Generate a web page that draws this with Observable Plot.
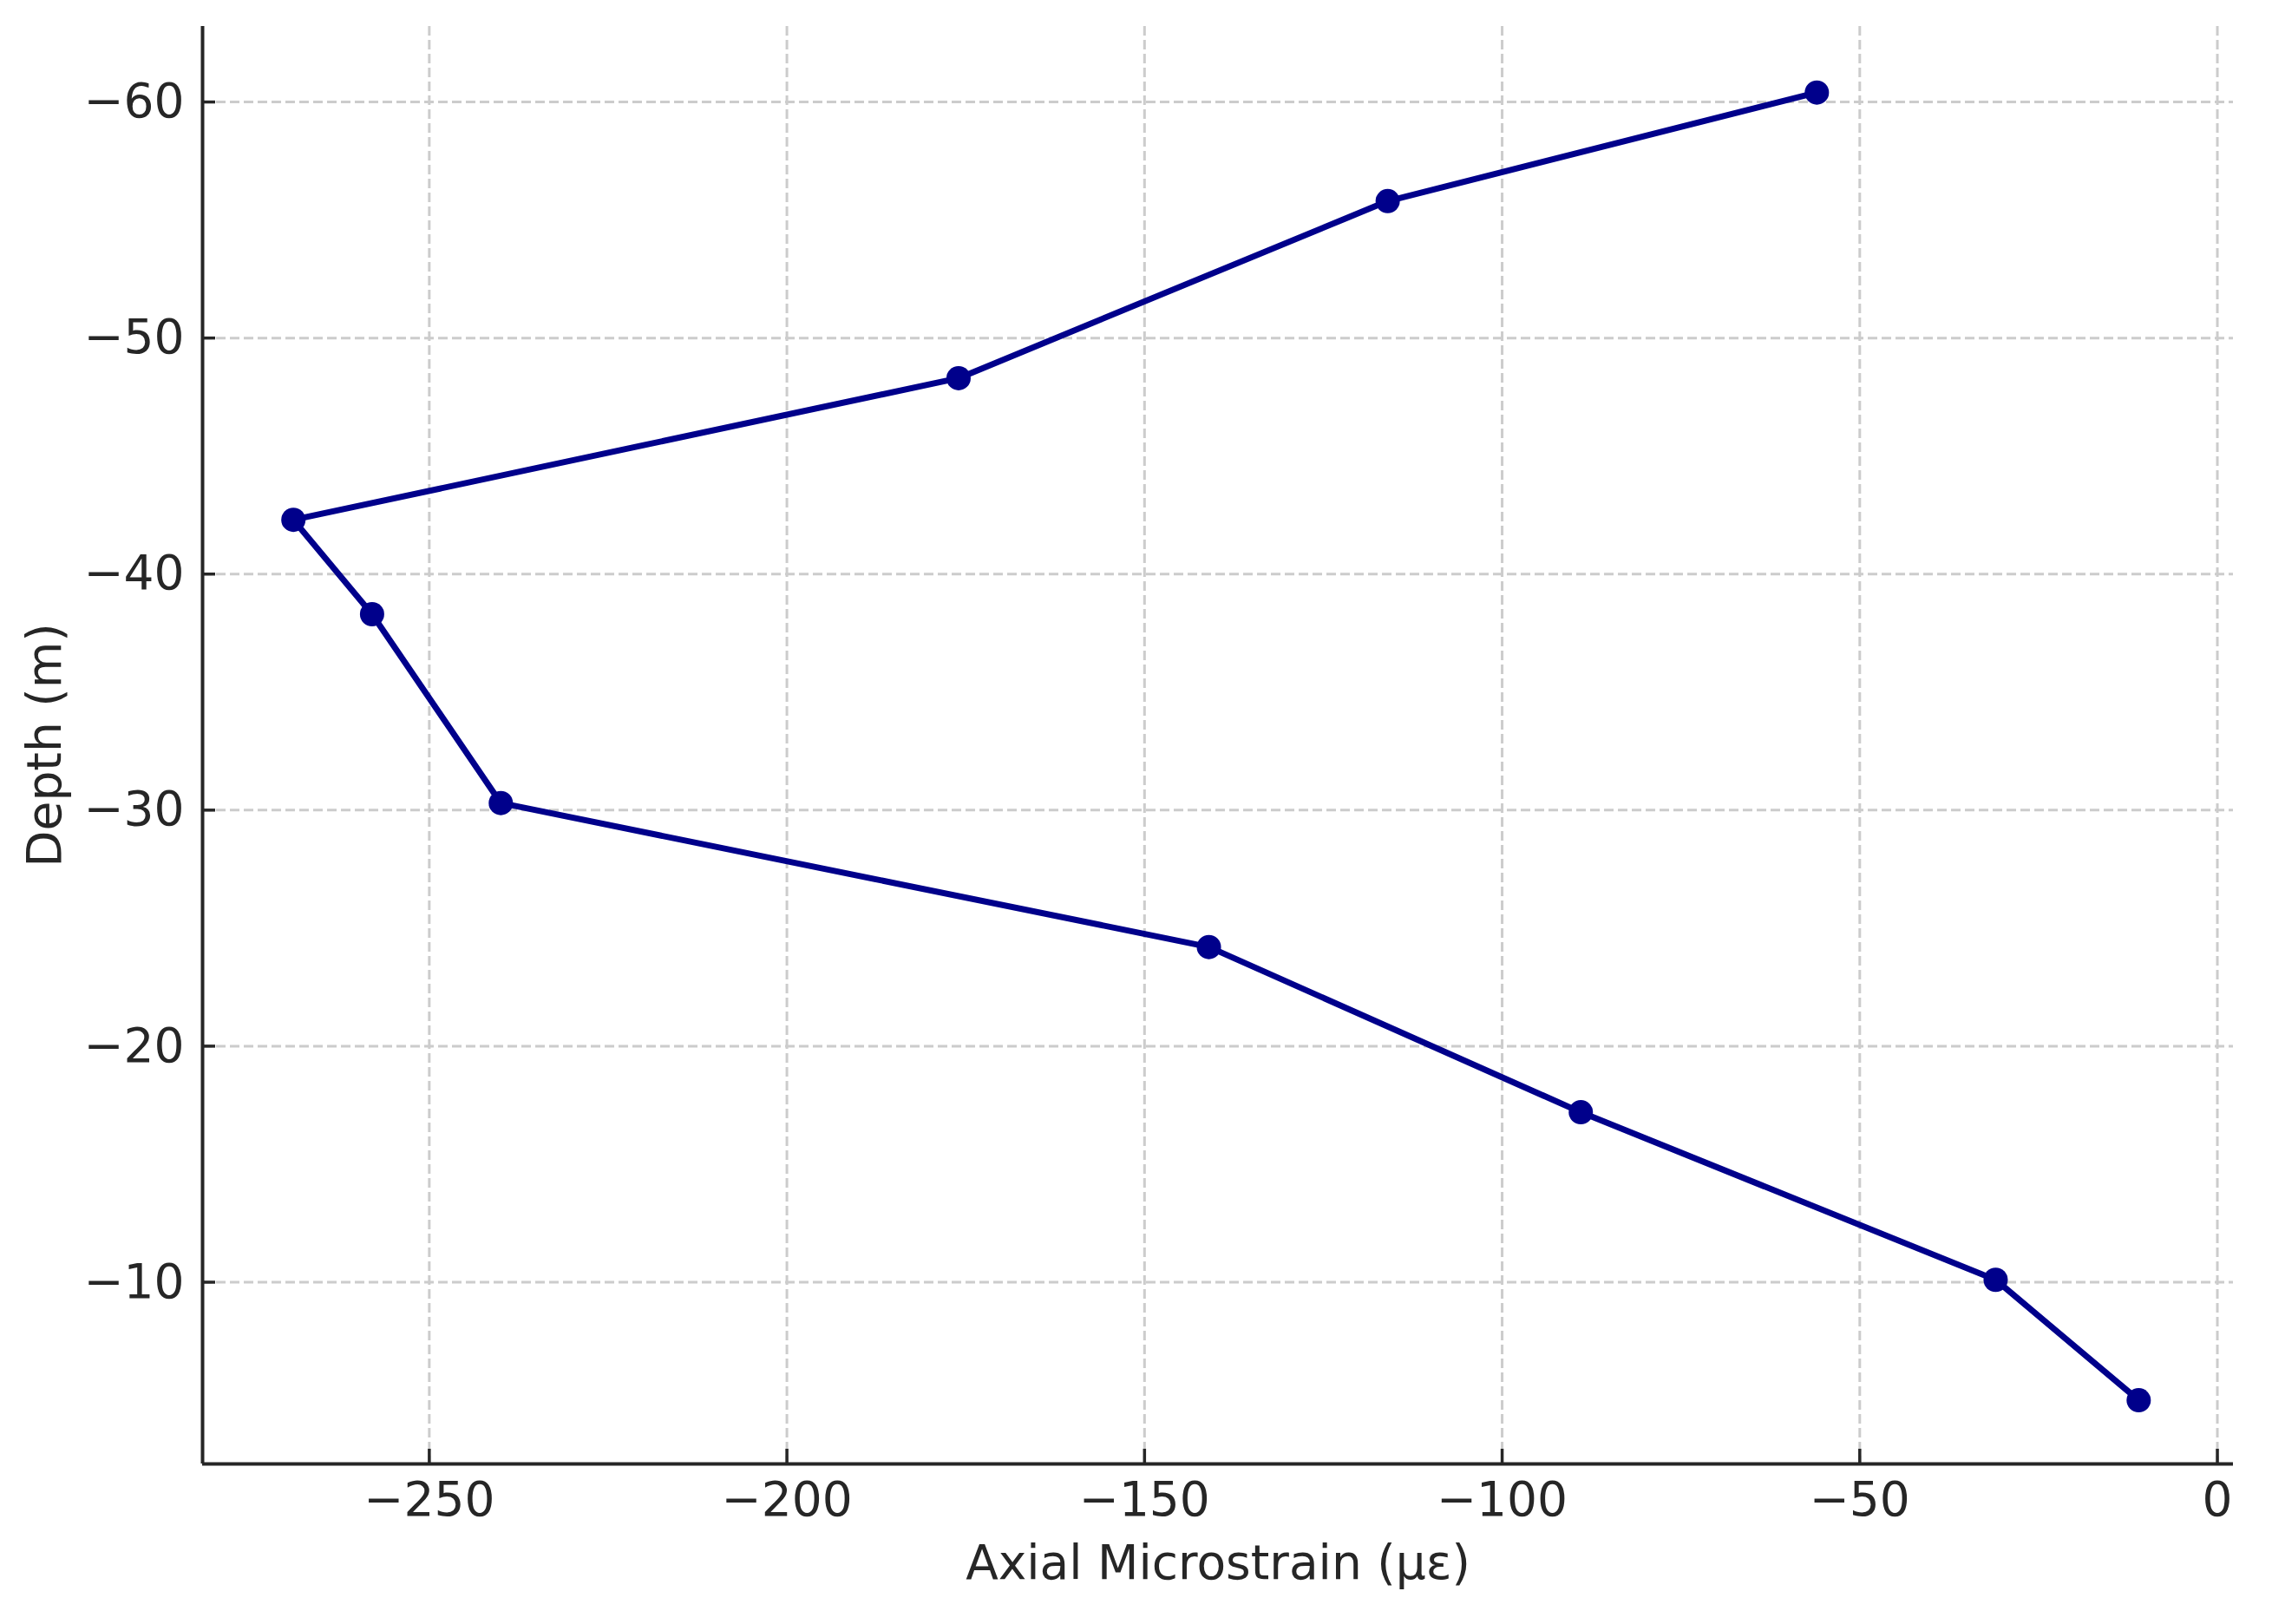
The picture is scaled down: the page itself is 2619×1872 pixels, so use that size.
<!DOCTYPE html>
<html><head><meta charset="utf-8">
<script src="https://cdn.jsdelivr.net/npm/d3@7"></script>
<script src="https://cdn.jsdelivr.net/npm/@observablehq/plot@0.6"></script>
<style>html,body{margin:0;padding:0;background:#fff;} svg{display:block}</style>
</head><body><div id="chart"></div>
<script>
const strain = [-11, -31, -89, -141, -240, -258, -269, -176, -116, -56];
const depth = [-5.0, -10.1, -17.2, -24.2, -30.3, -38.3, -42.3, -48.3, -55.8, -60.4];
const xTicks = [-250, -200, -150, -100, -50, 0];
const yTicks = [-60, -50, -40, -30, -20, -10];
const xLabel = "Axial Microstrain (με)";
const yLabel = "Depth (m)";

const data = strain.map((s, i) => ({strain: s, depth: depth[i]}));
const W = 2619, H = 1872, mL = 233, mR = 45, mT = 30, mB = 185;
const xDomain = [-281.7, 2.24], yDomain = [-63.2, -2.3];
const fmt = d => String(d).replace("-", "\u2212");
const ink = "#262626";
const lineColor = "#00008B";
const gridStyle = {stroke: "#cccccc", strokeOpacity: 1, strokeWidth: 3, strokeDasharray: "11,5"};

const chart = Plot.plot({
  width: W, height: H,
  marginLeft: mL, marginRight: mR, marginTop: mT, marginBottom: mB,
  style: {fontFamily: "DejaVu Sans", fontSize: "55px", color: ink, background: "#fff", overflow: "visible"},
  x: {domain: xDomain},
  y: {domain: yDomain, reverse: true},
  marks: [
    Plot.gridX(xTicks, gridStyle),
    Plot.gridY(yTicks, gridStyle),
    Plot.tickX(xTicks, {x: d => d, stroke: ink, strokeWidth: 3.5, insetTop: (H - mT - mB) - 17}),
    Plot.tickY(yTicks, {y: d => d, stroke: ink, strokeWidth: 3.5, insetRight: (W - mL - mR) - 15}),
    Plot.ruleX([xDomain[0]], {stroke: ink, strokeWidth: 4}),
    Plot.ruleY([yDomain[1]], {stroke: ink, strokeWidth: 4}),
    Plot.axisX(xTicks, {tickSize: 0, tickPadding: 20, tickFormat: fmt, fontSize: 55, label: null}),
    Plot.axisY(yTicks, {tickSize: 0, tickPadding: 21, tickFormat: fmt, fontSize: 55, label: null}),
    Plot.line(data, {x: "strain", y: "depth", stroke: lineColor, strokeWidth: 7}),
    Plot.dot(data, {x: "strain", y: "depth", r: 14, fill: lineColor}),
    Plot.text([xLabel], {frameAnchor: "bottom", dy: 115, text: d => d, fontSize: 55, lineAnchor: "middle", textAnchor: "middle", fill: ink}),
    Plot.text([yLabel], {frameAnchor: "left", dx: -181, rotate: -90, text: d => d, fontSize: 55, lineAnchor: "middle", textAnchor: "middle", fill: ink})
  ]
});
document.getElementById("chart").appendChild(chart);
</script>
</body></html>
